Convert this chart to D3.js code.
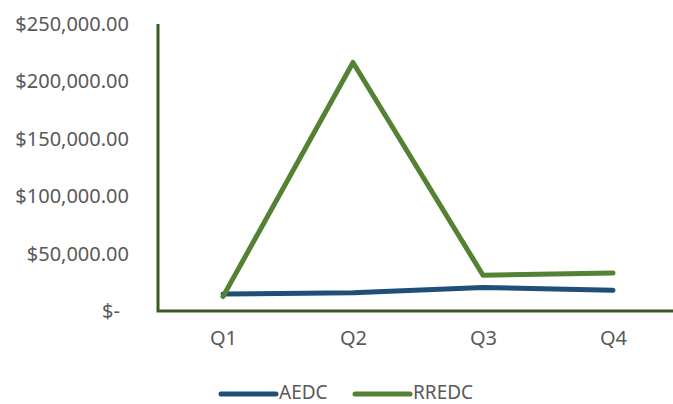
<!DOCTYPE html>
<html><head><meta charset="utf-8">
<script src="https://cdn.jsdelivr.net/npm/d3@7/dist/d3.min.js"></script>
<style>body{margin:0;background:#fff}svg{display:block}</style>
</head><body>
<svg id="c" width="673" height="404"></svg>
<script>
const categories = ["Q1","Q2","Q3","Q4"];
const aedc = [14800, 16000, 20500, 18000];
const rredc = [12500, 216500, 31200, 33000];
const yTicks = [0, 50000, 100000, 150000, 200000, 250000];
const seriesNames = ["AEDC","RREDC"];
const colors = ["#1F4E79","#548235"];

const svg = d3.select("#c");
const font = "'Noto Sans', sans-serif";
const fs = "20px";
const x = d3.scalePoint().domain(categories).range([158, 678]).padding(0.5);
const y = d3.scaleLinear().domain([0, 250000]).range([311, 24]);

// y axis
const fmt = v => v === 0 ? "$-" : "$" + d3.format(",.2f")(v);
const ya = svg.append("g").attr("transform","translate(158,0)")
  .call(d3.axisLeft(y).tickValues(yTicks).tickFormat(fmt).tickSize(0).tickPadding(29));
ya.select(".domain").remove();
ya.selectAll("text").attr("font-family",font).attr("font-size",fs).attr("fill","#595959")
  .attr("dx", d => d === 0 ? -9 : 0);

// x axis
const xa = svg.append("g").attr("transform","translate(0,311)")
  .call(d3.axisBottom(x).tickSize(0).tickPadding(20));
xa.select(".domain").remove();
xa.selectAll("text").attr("font-family",font).attr("font-size",fs).attr("fill","#595959");

// lines
const line = d3.line().x((d,i)=>x(categories[i])).y(d=>y(d));
[aedc, rredc].forEach((s,k)=>{
  svg.append("path").attr("d", line(s)).attr("fill","none")
    .attr("stroke", colors[k]).attr("stroke-width",5)
    .attr("stroke-linejoin","round").attr("stroke-linecap","round");
});

// axis lines
svg.append("path").attr("d", `M158,${y(250000)}V${y(0)}H680`).attr("fill","none")
  .attr("stroke","#3B5A23").attr("stroke-width",3);

// legend
const leg = [{x1:221,x2:276,tx:279},{x1:355,x2:410,tx:413}];
seriesNames.forEach((n,k)=>{
  svg.append("line").attr("x1",leg[k].x1).attr("x2",leg[k].x2).attr("y1",394).attr("y2",394)
    .attr("stroke",colors[k]).attr("stroke-width",5).attr("stroke-linecap","round");
  svg.append("text").attr("x",leg[k].tx).attr("y",399)
    .attr("font-family",font).attr("font-size","19px").attr("fill","#595959").text(n);
});
</script>
</body></html>
